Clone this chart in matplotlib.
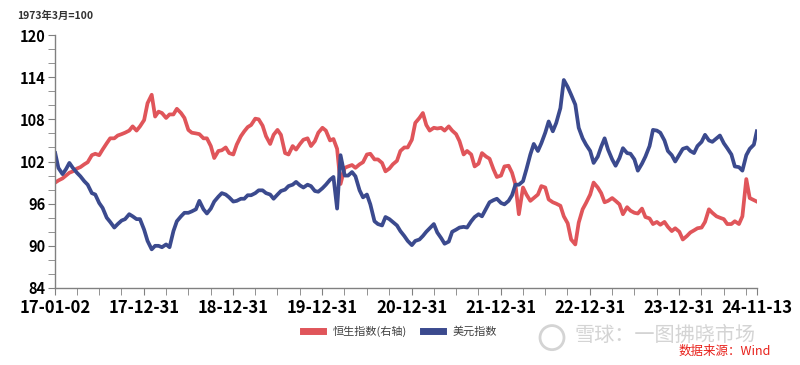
import matplotlib
matplotlib.use("Agg")
import matplotlib.pyplot as plt
from matplotlib.patches import Ellipse
import pandas as pd

plt.rcParams["font.family"] = ["Noto Sans CJK SC", "DejaVu Sans"]

# semi-monthly samples (1st / 15th), last point is 2024-11-13
dates = list(pd.date_range("2017-01-01", "2024-11-01", freq="SMS"))
dates[0] = pd.Timestamp("2017-01-02")
dates.append(pd.Timestamp("2024-11-13"))

# Hang Seng, as drawn against the left scale (right axis not shown)
hsi = [99.0, 99.3, 99.6, 100.0, 100.4, 100.6, 101.0, 101.2, 101.6, 101.9,
       102.9, 103.1, 102.9, 103.7, 104.6, 105.3, 105.3, 105.7, 105.9, 106.1,
       106.4, 107.0, 106.4, 107.0, 107.9, 110.3, 111.5, 108.4, 109.1, 108.9,
       108.2, 108.7, 108.7, 109.5, 108.9, 108.2, 106.5, 106.1, 106.0, 105.9,
       105.3, 105.3, 104.2, 102.5, 103.5, 103.6, 104.0, 103.2, 103.0, 104.4,
       105.6, 106.3, 106.9, 107.2, 108.1, 108.0, 107.1, 105.6, 104.5, 105.8,
       106.5, 105.8, 103.2, 103.0, 104.2, 103.7, 104.5, 105.1, 105.3, 104.2,
       104.9, 106.1, 106.8, 106.4, 105.0, 105.2, 103.8, 98.8, 101.1, 101.3,
       101.5, 101.1, 101.6, 101.9, 103.0, 103.1, 102.3, 102.3, 101.8, 100.6,
       101.0, 101.6, 102.1, 103.5, 104.0, 104.0, 105.1, 107.5, 108.2, 108.9,
       107.2, 106.4, 106.8, 106.7, 106.8, 106.4, 107.0, 106.4, 105.9, 104.9,
       103.0, 103.5, 103.0, 101.3, 101.7, 103.2, 102.7, 102.4, 100.9, 99.8,
       100.0, 101.3, 101.4, 100.4, 98.7, 94.5, 98.3, 97.3, 96.4, 96.8,
       97.3, 98.5, 98.3, 96.6, 96.2, 96.0, 95.7, 94.2, 93.2, 90.9,
       90.2, 93.3, 95.2, 96.1, 97.3, 99.0, 98.3, 97.5, 96.2, 96.4,
       96.8, 96.4, 95.9, 94.5, 95.5, 95.0, 94.7, 94.6, 95.3, 94.1,
       93.9, 93.1, 93.4, 93.0, 93.4, 92.7, 92.1, 92.5, 92.0, 90.9,
       91.4, 91.9, 92.2, 92.5, 92.6, 93.4, 95.2, 94.7, 94.2, 94.0,
       93.8, 93.1, 93.1, 93.5, 93.1, 94.2, 99.5, 96.8, 96.5, 96.3]

usd = [103.2, 101.1, 100.2, 100.9, 101.8, 101.1, 100.4, 99.9, 99.2, 98.7,
       97.5, 97.3, 96.1, 95.4, 94.0, 93.4, 92.6, 93.1, 93.6, 93.8,
       94.5, 94.2, 93.8, 93.8, 92.3, 90.7, 89.5, 90.0, 90.0, 89.8,
       90.2, 89.8, 92.1, 93.5, 94.2, 94.7, 94.7, 94.9, 95.2, 96.4,
       95.2, 94.6, 95.3, 96.3, 97.0, 97.5, 97.3, 96.9, 96.3, 96.4,
       96.7, 96.7, 97.2, 97.2, 97.5, 97.9, 97.9, 97.5, 97.3, 96.7,
       97.3, 97.8, 98.0, 98.5, 98.7, 99.1, 98.6, 98.3, 98.7, 98.5,
       97.8, 97.7, 98.2, 98.7, 99.4, 99.8, 95.3, 102.9, 100.0, 100.0,
       100.5, 99.9, 97.9, 96.9, 97.3, 95.9, 93.5, 93.1, 92.9, 94.1,
       93.8, 93.4, 92.9, 92.1, 91.4, 90.7, 90.1, 90.7, 90.9, 91.4,
       92.0, 92.5, 93.1, 91.9, 91.1, 90.3, 90.6, 92.0, 92.3, 92.6,
       92.7, 92.6, 93.5, 94.1, 94.5, 94.2, 95.3, 96.2, 96.5, 96.7,
       96.1, 95.9, 96.4, 97.2, 98.7, 98.7, 99.2, 100.9, 103.0, 104.5,
       103.5, 104.6, 106.1, 107.7, 106.3, 107.5, 109.6, 113.6, 112.6, 111.5,
       110.1, 106.8, 105.3, 104.4, 103.5, 101.8, 102.7, 104.1, 105.3, 103.7,
       102.3, 101.4, 102.5, 103.9, 103.2, 103.1, 102.3, 100.7, 101.7, 102.7,
       104.2, 106.5, 106.4, 106.1, 105.0, 103.5, 102.9, 102.0, 103.0, 103.8,
       104.0, 103.5, 103.2, 104.2, 104.8, 105.8, 105.0, 104.8, 105.3, 105.7,
       104.6, 103.9, 103.0, 101.3, 101.2, 100.7, 102.9, 103.8, 104.4, 106.3]

tick_dates = ([pd.Timestamp("2017-01-02")]
              + [pd.Timestamp(f"{y}-12-31") for y in range(2017, 2024)]
              + [pd.Timestamp("2024-11-13")])

fig = plt.figure(figsize=(8, 3.65), dpi=100)
ax = fig.add_axes([0.069, 0.211, 0.877, 0.693])

ax.plot(dates, hsi, color="#e0555a", lw=2.7, label="恒生指数(右轴)")
ax.plot(dates, usd, color="#3b4a8e", lw=2.7, label="美元指数")

ax.set_ylim(84, 120)
ax.set_yticks(range(84, 121, 6))
ax.set_yticks(range(84, 121, 2), minor=True)
ax.set_xlim(dates[0], dates[-1])
ax.set_xticks(tick_dates)
ax.set_xticklabels([d.strftime("%y-%m-%d") for d in tick_dates])
ax.set_xticks(pd.date_range("2017-03-31", "2024-09-30", freq="QE"), minor=True)

for s in ["top", "right"]:
    ax.spines[s].set_visible(False)
for s in ["left", "bottom"]:
    ax.spines[s].set_color("#808080")
    ax.spines[s].set_linewidth(1)

ax.tick_params(which="both", direction="out", length=5, color="#808080")
ax.tick_params(axis="x", labelsize=12, pad=3)
ax.tick_params(axis="y", labelsize=10.5, pad=2)
for lab in ax.get_xticklabels() + ax.get_yticklabels():
    lab.set_fontweight("bold")

fig.text(0.021, 0.956, "1973年3月=100", fontsize=7.5, fontweight="bold",
         color="#333333", va="center")

fig.legend(loc="center", bbox_to_anchor=(0.5, 0.093), ncol=2, frameon=False,
           fontsize=8, handlelength=1.8, columnspacing=1.5,
           labelcolor="#404040")
for h in fig.legends[0].get_lines():
    h.set_linewidth(5)

# watermark (logo ring + name) and data source
fig.patches.append(Ellipse((0.69, 0.075), 0.03, 0.066, transform=fig.transFigure,
                           fill=False, edgecolor="#d4d4d4", lw=2))
fig.text(0.718, 0.08, "雪球：一图拂晓市场", fontsize=14.5, color="#d4d4d4",
         va="center")
fig.text(0.848, 0.036, "数据来源：Wind", fontsize=9, color="#e8201a",
         va="center")

fig.savefig("out.png", dpi=100)
